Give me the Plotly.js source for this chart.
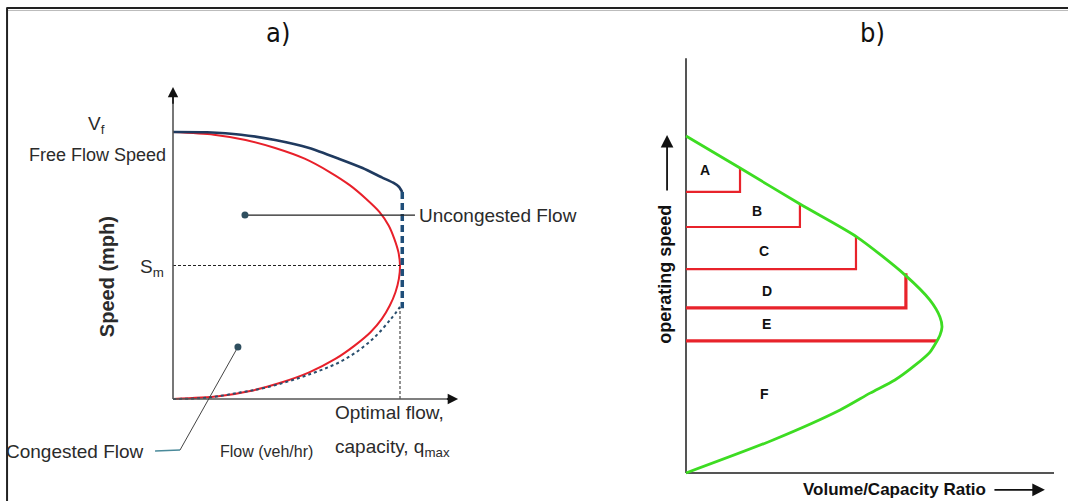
<!DOCTYPE html>
<html>
<head>
<meta charset="utf-8">
<script src="https://cdn.plot.ly/plotly-3.0.1.min.js"></script>
<style>
  html, body { margin: 0; padding: 0; background: #ffffff; }
  #chart { width: 1068px; height: 501px; }
</style>
</head>
<body>
<div id="chart"></div>
<script>
// ---- a) speed–flow relationship (flow in units of q_max, speed in units of V_f) ----
const redSpeed = [1.00, 0.99, 0.97, 0.94, 0.90, 0.85, 0.80, 0.75, 0.70, 0.65, 0.60, 0.55, 0.50,
                  0.45, 0.40, 0.35, 0.30, 0.25, 0.20, 0.15, 0.10, 0.06, 0.03, 0.01, 0.00];
const redFlow  = [0.00, 0.18, 0.32, 0.45, 0.58, 0.69, 0.78, 0.85, 0.91, 0.95, 0.975, 0.993, 1.00,
                  0.995, 0.98, 0.955, 0.92, 0.87, 0.80, 0.715, 0.60, 0.47, 0.34, 0.20, 0.00];

const blueSpeed = [1.00, 0.999, 0.99, 0.97, 0.94, 0.90, 0.865, 0.83, 0.81, 0.795, 0.775];
const blueFlow  = [0.00, 0.15, 0.30, 0.45, 0.60, 0.73, 0.835, 0.92, 0.97, 0.995, 1.01];

const capSpeed = [0.775, 0.34];
const capFlow  = [1.01, 1.01];

const dotSpeed = [0.00, 0.005, 0.025, 0.045, 0.095, 0.15, 0.225, 0.30, 0.345];
const dotFlow  = [0.00, 0.15, 0.30, 0.42, 0.61, 0.76, 0.88, 0.96, 1.00];

const speedAtCapacity = 0.5;   // S_m
const flowAtCapacity = 1.0;    // q_max

// ---- b) level-of-service bands on operating speed vs v/c ----
const losLetters = ['A', 'B', 'C', 'D', 'E', 'F'];
const losLowerSpeed = [0.834, 0.730, 0.605, 0.490, 0.392];
const losMaxRatio   = [0.211, 0.445, 0.664, 0.859, 0.980];
const losUpperSpeed = [0.905, 0.798, 0.700, 0.593, null];

const greenSpeed = [1.00, 0.905, 0.798, 0.700, 0.588, 0.513, 0.463, 0.433, 0.409, 0.359, 0.320, 0.276, 0.237, 0.187, 0.098, 0.00];
const greenRatio = [0.00, 0.211, 0.445, 0.668, 0.855, 0.953, 0.992, 1.000, 0.992, 0.953, 0.895, 0.816, 0.719, 0.602, 0.340, 0.00];

const FONT = 'Liberation Sans, Arial, sans-serif';
const TXT = '#2b2b2b';
const AXIS = '#555555';

const traces = [];

// panel a curves
traces.push({ x: redFlow, y: redSpeed, xaxis: 'x', yaxis: 'y', mode: 'lines',
  line: { color: '#e8202a', width: 2, shape: 'spline', smoothing: 0.8 } });
traces.push({ x: blueFlow, y: blueSpeed, xaxis: 'x', yaxis: 'y', mode: 'lines',
  line: { color: '#1f3a5f', width: 2.6, shape: 'spline', smoothing: 0.6 } });
traces.push({ x: capFlow, y: capSpeed, xaxis: 'x', yaxis: 'y', mode: 'lines',
  line: { color: '#1f4e79', width: 3.5, dash: '7px,4px' } });
traces.push({ x: dotFlow, y: dotSpeed, xaxis: 'x', yaxis: 'y', mode: 'lines',
  line: { color: '#2a4f6e', width: 2, dash: 'dot', shape: 'spline' } });
// S_m and q_max guides
traces.push({ x: [0, flowAtCapacity], y: [speedAtCapacity, speedAtCapacity], xaxis: 'x', yaxis: 'y',
  mode: 'lines', line: { color: '#222', width: 1, dash: '3px,2px' } });
traces.push({ x: [flowAtCapacity, flowAtCapacity], y: [0, 0.34], xaxis: 'x', yaxis: 'y',
  mode: 'lines', line: { color: '#222', width: 1, dash: '3px,2px' } });
// axes of panel a
traces.push({ x: [0, 0], y: [0, 1.15], xaxis: 'x', yaxis: 'y', mode: 'lines', line: { color: AXIS, width: 1.6 } });
traces.push({ x: [0, 1.24], y: [0, 0], xaxis: 'x', yaxis: 'y', mode: 'lines', line: { color: AXIS, width: 1.6 } });
// leader lines
traces.push({ x: [0.317, 1.066], y: [0.689, 0.689], xaxis: 'x', yaxis: 'y', mode: 'lines',
  line: { color: '#222', width: 1.2 } });
traces.push({ x: [0.286, 0.031], y: [0.195, -0.191], xaxis: 'x', yaxis: 'y', mode: 'lines',
  line: { color: '#444', width: 1 } });
traces.push({ x: [0.031, -0.079], y: [-0.191, -0.195], xaxis: 'x', yaxis: 'y', mode: 'lines',
  line: { color: '#4a8a9a', width: 1.4 } });
traces.push({ x: [0.317, 0.286], y: [0.689, 0.195], xaxis: 'x', yaxis: 'y', mode: 'markers',
  marker: { color: '#2f4f5f', size: 7 } });

// panel b
traces.push({ x: [0, 0], y: [0, 1.231], xaxis: 'x2', yaxis: 'y2', mode: 'lines', line: { color: AXIS, width: 2 } });
traces.push({ x: [0, 1.4375], y: [0, 0], xaxis: 'x2', yaxis: 'y2', mode: 'lines', line: { color: AXIS, width: 2 } });
losLowerSpeed.forEach((s, i) => {
  const r = losMaxRatio[i];
  const top = losUpperSpeed[i];
  const xs = top === null ? [0, r] : [0, r, r];
  const ys = top === null ? [s, s] : [s, s, top];
  traces.push({ x: xs, y: ys, xaxis: 'x2', yaxis: 'y2', mode: 'lines',
    line: { color: '#e8232b', width: i >= 3 ? 3.2 : 2.2 } });
});
traces.push({ x: greenRatio, y: greenSpeed, xaxis: 'x2', yaxis: 'y2', mode: 'lines',
  line: { color: '#3ddc22', width: 2.8, shape: 'spline', smoothing: 0.7 } });

function label(x, y, ref, text, size, extra) {
  return Object.assign({
    x: x, y: y, xref: ref[0], yref: ref[1], text: text, showarrow: false,
    font: { family: FONT, size: size, color: TXT }, xanchor: 'center', yanchor: 'middle'
  }, extra || {});
}
const A = ['x', 'y'];
const B = ['x2', 'y2'];
const boldFont = (s) => ({ family: FONT, size: s, color: '#111' });
const titleFont = { family: 'Liberation Sans Narrow, DejaVu Sans Condensed, sans-serif', size: 27, color: '#111' };

const annotations = [
  // titles
  { x: 0.260, y: 0.936, xref: 'paper', yref: 'paper', text: 'a)', showarrow: false,
    xanchor: 'center', yanchor: 'middle', font: titleFont },
  { x: 0.817, y: 0.936, xref: 'paper', yref: 'paper', text: 'b)', showarrow: false,
    xanchor: 'center', yanchor: 'middle', font: titleFont },
  // axis arrowheads (panel a)
  { x: 0, y: 1.169, ax: 0, ay: 1.10, xref: 'x', yref: 'y', axref: 'x', ayref: 'y', text: '',
    showarrow: true, arrowhead: 2, arrowsize: 1.3, arrowwidth: 1.6, arrowcolor: '#111' },
  { x: 1.256, y: 0, ax: 1.20, ay: 0, xref: 'x', yref: 'y', axref: 'x', ayref: 'y', text: '',
    showarrow: true, arrowhead: 2, arrowsize: 1.3, arrowwidth: 1.6, arrowcolor: '#111' },
  // panel a text
  label(-0.339, 1.025, A, 'V<sub>f</sub>', 19),
  label(-0.022, 0.915, A, 'Free Flow Speed', 18, { xanchor: 'right' }),
  label(-0.290, 0.457, A, '<b>Speed (mph)</b>', 20, { textangle: -90 }),
  label(-0.093, 0.49, A, 'S<sub>m</sub>', 19),
  label(1.075, 0.689, A, 'Uncongested Flow', 19, { xanchor: 'left' }),
  label(-0.119, -0.195, A, 'Congested Flow', 19, { xanchor: 'right' }),
  label(0.41, -0.195, A, 'Flow (veh/hr)', 16),
  label(0.952, -0.05, A, 'Optimal flow,', 19),
  label(0.965, -0.185, A, 'capacity, q<sub>max</sub>', 19),
  // panel b text
  label(-0.082, 0.588, B, '<b>operating speed</b>', 18, { textangle: -90, font: boldFont(18) }),
  { x: -0.074, y: 1.003, ax: -0.074, ay: 0.834, xref: 'x2', yref: 'y2', axref: 'x2', ayref: 'y2', text: '',
    showarrow: true, arrowhead: 2, arrowsize: 1.4, arrowwidth: 1.8, arrowcolor: '#111' },
  label(0.816, -0.050, B, '<b>Volume/Capacity Ratio</b>', 17, { font: boldFont(17) }),
  { x: 1.402, y: -0.050, ax: 1.199, ay: -0.050, xref: 'x2', yref: 'y2', axref: 'x2', ayref: 'y2', text: '',
    showarrow: true, arrowhead: 2, arrowsize: 1.4, arrowwidth: 1.8, arrowcolor: '#111' }
];

// LOS letters inside each band
const letterSpots = [[0.074, 0.899], [0.277, 0.777], [0.305, 0.659], [0.316, 0.540], [0.313, 0.442], [0.305, 0.234]];
losLetters.forEach((L, i) => {
  annotations.push(label(letterSpots[i][0], letterSpots[i][1], B, '<b>' + L + '</b>', 14,
    { font: boldFont(14) }));
});

const hidden = { visible: false, fixedrange: true };
const layout = {
  width: 1068, height: 501,
  margin: { l: 0, r: 0, t: 0, b: 0 },
  paper_bgcolor: '#ffffff', plot_bgcolor: 'rgba(0,0,0,0)',
  showlegend: false,
  xaxis:  Object.assign({ domain: [0, 0.5], range: [-0.7621, 1.5903] }, hidden),
  yaxis:  Object.assign({ domain: [0, 1], range: [-0.3820, 1.4944] }, hidden),
  xaxis2: Object.assign({ domain: [0.5, 1], range: [-0.59375, 1.49219], anchor: 'y2' }, hidden),
  yaxis2: Object.assign({ domain: [0, 1], range: [-0.08309, 1.40356], anchor: 'x2' }, hidden),
  annotations: annotations,
  shapes: [
    // page frame
    { type: 'line', xref: 'paper', yref: 'paper', x0: 0.0062, x1: 1, y0: 0.984, y1: 0.984, line: { color: '#222', width: 2 } },
    { type: 'line', xref: 'paper', yref: 'paper', x0: 0.0062, x1: 1, y0: 0.979, y1: 0.979, line: { color: '#bbbbbb', width: 1 } },
    { type: 'line', xref: 'paper', yref: 'paper', x0: 0.0066, x1: 0.0066, y0: 0, y1: 0.985, line: { color: '#222', width: 2 } }
  ]
};

Plotly.newPlot('chart', traces, layout, { staticPlot: true, displayModeBar: false });
</script>
</body>
</html>
